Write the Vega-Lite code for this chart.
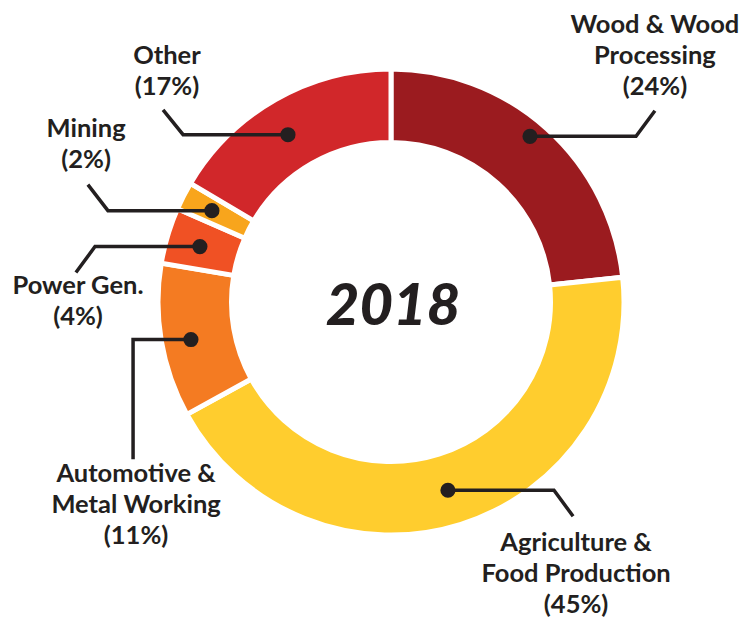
{
  "$schema": "https://vega.github.io/schema/vega-lite/v6.json",
  "width": 743,
  "height": 619,
  "autosize": {"type": "fit", "contains": "padding"},
  "padding": 0,
  "background": "white",
  "config": {"view": {"stroke": null}},
  "datasets": {
    "segments": [
      {"sector": "Wood & Wood Processing", "value": 24, "idx": 1},
      {"sector": "Agriculture & Food Production", "value": 45, "idx": 2},
      {"sector": "Automotive & Metal Working", "value": 11, "idx": 3},
      {"sector": "Power Gen.", "value": 4, "idx": 4},
      {"sector": "Mining", "value": 2, "idx": 5},
      {"sector": "Other", "value": 17, "idx": 6}
    ],
    "leaders": [
      {"sector": "Wood", "i": 1, "x": 0.603, "y": 0.720},
      {"sector": "Wood", "i": 2, "x": 1.063, "y": 0.720},
      {"sector": "Wood", "i": 3, "x": 1.145, "y": 0.831},
      {"sector": "Agri", "i": 1, "x": 0.247, "y": -0.818},
      {"sector": "Agri", "i": 2, "x": 0.707, "y": -0.818},
      {"sector": "Agri", "i": 3, "x": 0.790, "y": -0.931},
      {"sector": "Auto", "i": 1, "x": -0.868, "y": -0.163},
      {"sector": "Auto", "i": 2, "x": -1.119, "y": -0.163},
      {"sector": "Auto", "i": 3, "x": -1.119, "y": -0.683},
      {"sector": "Power", "i": 1, "x": -0.829, "y": 0.241},
      {"sector": "Power", "i": 2, "x": -1.284, "y": 0.241},
      {"sector": "Power", "i": 3, "x": -1.367, "y": 0.128},
      {"sector": "Mining", "i": 1, "x": -0.777, "y": 0.397},
      {"sector": "Mining", "i": 2, "x": -1.228, "y": 0.397},
      {"sector": "Mining", "i": 3, "x": -1.315, "y": 0.510},
      {"sector": "Other", "i": 1, "x": -0.447, "y": 0.727},
      {"sector": "Other", "i": 2, "x": -0.902, "y": 0.727},
      {"sector": "Other", "i": 3, "x": -0.989, "y": 0.835}
    ],
    "labels": [
      {"label": "Wood & Wood\nProcessing\n(24%)", "x": 1.145, "y": 1.169},
      {"label": "Other\n(17%)", "x": -0.972, "y": 1.035},
      {"label": "Mining\n(2%)", "x": -1.323, "y": 0.718},
      {"label": "Power Gen.\n(4%)", "x": -1.358, "y": 0.033},
      {"label": "Automotive &\nMetal Working\n(11%)", "x": -1.106, "y": -0.783},
      {"label": "Agriculture &\nFood Production\n(45%)", "x": 0.803, "y": -1.082}
    ],
    "center": [
      {"t": "2018", "x": 0.009, "y": -0.098}
    ]
  },
  "layer": [
    {
      "data": {"name": "segments"},
      "mark": {"type": "arc", "outerRadius": 233, "innerRadius": 159.5, "stroke": "white", "strokeWidth": 5},
      "encoding": {
        "theta": {"field": "value", "type": "quantitative", "stack": true},
        "order": {"field": "idx", "type": "quantitative"},
        "x": {"datum": 0, "type": "quantitative", "scale": {"domain": [-1.6963, 1.5271], "nice": false, "zero": false}, "axis": null},
        "y": {"datum": 0, "type": "quantitative", "scale": {"domain": [-1.3731, 1.3124], "nice": false, "zero": false}, "axis": null},
        "color": {
          "field": "sector",
          "type": "nominal",
          "legend": null,
          "scale": {
            "domain": ["Wood & Wood Processing", "Agriculture & Food Production", "Automotive & Metal Working", "Power Gen.", "Mining", "Other"],
            "range": ["#9B1B1F", "#FFCD2E", "#F47B22", "#F05124", "#F8A51C", "#D1272A"]
          }
        }
      }
    },
    {
      "data": {"name": "leaders"},
      "mark": {"type": "line", "color": "#231F20", "strokeWidth": 3.5, "strokeJoin": "miter", "strokeCap": "butt"},
      "encoding": {
        "x": {"field": "x", "type": "quantitative", "axis": null},
        "y": {"field": "y", "type": "quantitative", "axis": null},
        "detail": {"field": "sector"},
        "order": {"field": "i", "type": "quantitative"}
      }
    },
    {
      "data": {"name": "leaders"},
      "transform": [{"filter": "datum.i == 1"}],
      "mark": {"type": "point", "shape": "circle", "filled": true, "color": "#231F20", "size": 230, "opacity": 1},
      "encoding": {
        "x": {"field": "x", "type": "quantitative", "axis": null},
        "y": {"field": "y", "type": "quantitative", "axis": null}
      }
    },
    {
      "data": {"name": "labels"},
      "mark": {"type": "text", "font": "Lato", "fontWeight": "bold", "fontSize": 25.5, "color": "#231F20", "align": "center", "baseline": "alphabetic", "lineBreak": "\n", "lineHeight": 31},
      "encoding": {
        "x": {"field": "x", "type": "quantitative", "axis": null},
        "y": {"field": "y", "type": "quantitative", "axis": null},
        "text": {"field": "label"}
      }
    },
    {
      "data": {"name": "center"},
      "mark": {"type": "text", "font": "Lato", "fontWeight": 900, "fontStyle": "italic", "fontSize": 58, "color": "#231F20", "align": "center", "baseline": "alphabetic"},
      "encoding": {
        "x": {"field": "x", "type": "quantitative", "axis": null},
        "y": {"field": "y", "type": "quantitative", "axis": null},
        "text": {"field": "t"}
      }
    }
  ]
}
